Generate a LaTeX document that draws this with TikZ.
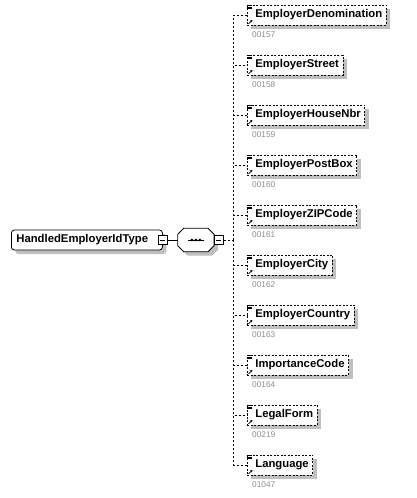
\documentclass[tikz,border=0pt]{standalone}
\usepackage{fontspec}
\newfontfamily\sansarial{Liberation Sans}
\usepackage{tikz}
\usetikzlibrary{positioning, shadows, arrows.meta}
\tikzset{
    sombra/.style={drop shadow={shadow xshift=4pt, shadow yshift=-4pt, fill=black!25, opacity=1}}, % sombra gris de las cajas
    conector/.style={dash pattern=on 2pt off 2pt, line width=0.8pt}, % lineas de los elementos opcionales
    tipo/.style={draw, line width=0.8pt, rounded corners=3pt, fill=white, sombra, anchor=west,
        minimum height=20pt, text width=141pt, align=left, inner xsep=5pt,
        font=\sansarial\bfseries\fontsize{11.3}{13}\selectfont},
    elemento/.style={draw, dash pattern=on 2pt off 1.5pt, line width=0.8pt, fill=white, sombra, anchor=west,
        minimum height=20pt, inner xsep=4pt, inner ysep=0pt,
        font=\sansarial\bfseries\fontsize{11.3}{13}\selectfont, execute at begin node={\hspace{4pt}}},
    numero/.style={text=black!45, inner sep=0pt, font=\sansarial\fontsize{8.3}{10}\selectfont},
    menos/.style={draw, line width=0.8pt, fill=white, minimum size=9pt, inner sep=0pt,
        path picture={\draw[line width=0.8pt] ([xshift=2pt]path picture bounding box.west) -- ([xshift=-2pt]path picture bounding box.east);}},
    secuencia/.style={minimum width=36pt, minimum height=23pt, inner sep=0pt}
}

\begin{document}
\begin{tikzpicture}[x=1pt, y=-1pt]
    \useasboundingbox (0,0) rectangle (416,498);

    % Tipo y secuencia
    \node[tipo] (HEIT) at (11,240) {HandledEmployerIdType};
    \node[menos] (m1) at (HEIT.east) {};
    \node[secuencia, right=10pt of m1] (SEQ) {};
    \filldraw[fill=white, line width=0.8pt, sombra] ([xshift=6pt]SEQ.north west) -- ([xshift=-6pt]SEQ.north east)
        -- ([yshift=-6pt]SEQ.north east) -- ([yshift=6pt]SEQ.south east) -- ([xshift=-6pt]SEQ.south east)
        -- ([xshift=6pt]SEQ.south west) -- ([yshift=6pt]SEQ.south west) -- ([yshift=-6pt]SEQ.north west) -- cycle;
    \node[menos] (m2) at ([xshift=4.5pt]SEQ.east) {};
    \coordinate[right=10pt of m2] (tronco);
    \draw[line width=0.8pt] ([xshift=-8pt]SEQ.center) -- ([xshift=8pt]SEQ.center);
    \foreach \d in {-4,0,4}
        \fill ([xshift=\d pt]SEQ.center) circle (1.5pt);

    % Elementos
    \node[elemento] (ED) at (247,15) {EmployerDenomination};
    \node[elemento] (ES) at (247,65) {EmployerStreet};
    \node[elemento] (EH) at (247,115) {EmployerHouseNbr};
    \node[elemento] (EP) at (247,165) {EmployerPostBox};
    \node[elemento] (EZ) at (247,215) {EmployerZIPCode};
    \node[elemento] (EC) at (247,265) {EmployerCity};
    \node[elemento] (EK) at (247,315) {EmployerCountry};
    \node[elemento] (IC) at (247,365) {ImportanceCode};
    \node[elemento] (LF) at (247,415) {LegalForm};
    \node[elemento] (LG) at (247,465) {Language};

    % Numeros
    \node[numero, below right=6pt and 5pt of ED.south west] {00157};
    \node[numero, below right=6pt and 5pt of ES.south west] {00158};
    \node[numero, below right=6pt and 5pt of EH.south west] {00159};
    \node[numero, below right=6pt and 5pt of EP.south west] {00160};
    \node[numero, below right=6pt and 5pt of EZ.south west] {00161};
    \node[numero, below right=6pt and 5pt of EC.south west] {00162};
    \node[numero, below right=6pt and 5pt of EK.south west] {00163};
    \node[numero, below right=6pt and 5pt of IC.south west] {00164};
    \node[numero, below right=6pt and 5pt of LF.south west] {00219};
    \node[numero, below right=6pt and 5pt of LG.south west] {01047};

    % Iconos
    \foreach \n in {ED,ES,EH,EP,EZ,EC,EK,IC,LF,LG} {
        \draw[line width=0.6pt] ([xshift=-0.5pt,yshift=-0.5pt]\n.north west) -- ++(5pt,0)
            ([xshift=-0.5pt,yshift=-2.3pt]\n.north west) -- ++(5pt,0)
            ([xshift=-0.5pt,yshift=-4.1pt]\n.north west) -- ++(5pt,0);
        \draw[-{Stealth[length=2.5pt,width=2.5pt]}, line width=0.8pt] ([xshift=1.5pt,yshift=1.5pt]\n.south west) -- ++(4pt,4pt);
    }

    % Conexiones
    \draw[line width=0.8pt] (m1) -- (SEQ);
    \draw[conector] (m2) -- (tronco);
    \foreach \n in {ED,ES,EH,EP,EZ,EC,EK,IC,LF,LG}
        \draw[conector] (tronco) |- (\n.west);
\end{tikzpicture}
\end{document}
